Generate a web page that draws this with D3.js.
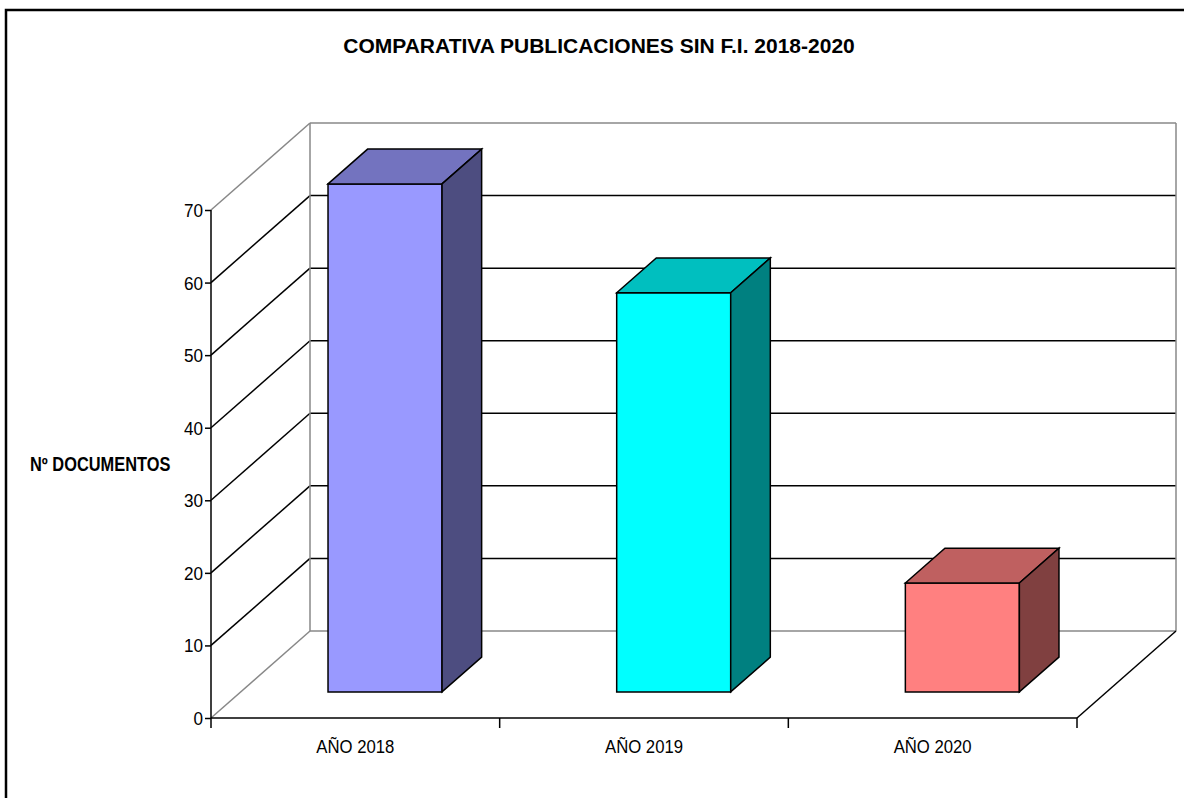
<!DOCTYPE html>
<html>
<head>
<meta charset="utf-8">
<script src="https://cdn.jsdelivr.net/npm/d3@7"></script>
<style>
  body { margin: 0; background: #fff; }
  svg { display: block; font-family: "Liberation Sans", Arial, sans-serif; }
</style>
</head>
<body>
<svg width="1184" height="798"></svg>
<script>
// chart data
var categories = ['AÑO 2018', 'AÑO 2019', 'AÑO 2020']
var values = [70, 55, 15]
var yTicks = [0, 10, 20, 30, 40, 50, 60, 70]
var frontColors = ['#9999ff', '#00ffff', '#ff8080']
var title = 'COMPARATIVA PUBLICACIONES SIN F.I. 2018-2020'
var yLabel = 'Nº DOCUMENTOS'

var svg = d3.select('svg')

// 3d depth of the plot box (full depth)
var depthX = 99
var depthY = -87
var barZ0 = 0.3, barZ1 = 0.7

var x = d3.scaleBand().domain(categories).range([211, 1077])
var y = d3.scaleLinear().domain([0, 70]).range([718, 210])

function pt(px, v, z) {
    return [px + z * depthX, y(v) + z * depthY]
}

// outer frame
svg.append('rect')
    .attr('x', 6).attr('y', 10)
    .attr('width', 1220).attr('height', 820)
    .style('fill', 'none').style('stroke', '#000').style('stroke-width', 2.5)

// title
svg.append('g')
    .attr('transform', 'translate(599,53) scale(1,1)')
    .append('text')
    .attr('text-anchor', 'middle')
    .style('font-size', '21px').style('font-weight', 'bold')
    .text(title)

var walls = svg.append('g')
var x0 = x.range()[0], x1 = x.range()[1]

// back wall gridlines + side wall diagonals
yTicks.forEach(function(v) {
    var edge = (v === 0 || v === 70)
    var col = edge ? '#888' : '#000'
    var a = pt(x0, v, 1), b = pt(x1, v, 1), f = pt(x0, v, 0)
    walls.append('line')
        .attr('x1', a[0]).attr('y1', a[1]).attr('x2', b[0]).attr('y2', b[1])
        .style('stroke', col).style('stroke-width', 1.5)
    walls.append('line')
        .attr('x1', f[0]).attr('y1', f[1]).attr('x2', a[0]).attr('y2', a[1])
        .style('stroke', col).style('stroke-width', 1.5)
})
// back wall verticals
;[x0, x1].forEach(function(px) {
    var t = pt(px, 70, 1), b = pt(px, 0, 1)
    walls.append('line')
        .attr('x1', t[0]).attr('y1', t[1]).attr('x2', b[0]).attr('y2', b[1])
        .style('stroke', '#888').style('stroke-width', 1.5)
})
// floor right edge
var fr0 = pt(x1, 0, 0), fr1 = pt(x1, 0, 1)
walls.append('line')
    .attr('x1', fr0[0]).attr('y1', fr0[1]).attr('x2', fr1[0]).attr('y2', fr1[1])
    .style('stroke', '#000').style('stroke-width', 1.5)

// bars
var bars = svg.append('g')
categories.forEach(function(c, i) {
    var bw = x.bandwidth() * 0.395
    var left = x(c) + x.bandwidth() / 2 - bw / 2
    var right = left + bw
    var v = values[i]
    var base = d3.color(frontColors[i])
    var topCol = d3.rgb(base.r * 0.75, base.g * 0.75, base.b * 0.75)
    var sideCol = d3.rgb(base.r * 0.5, base.g * 0.5, base.b * 0.5)

    var fTL = pt(left, v, barZ0), fTR = pt(right, v, barZ0)
    var fBR = pt(right, 0, barZ0), fBL = pt(left, 0, barZ0)
    var bTL = pt(left, v, barZ1), bTR = pt(right, v, barZ1), bBR = pt(right, 0, barZ1)

    var faces = [
        { p: [fTL, fTR, fBR, fBL], c: base },
        { p: [fTL, bTL, bTR, fTR], c: topCol },
        { p: [fTR, bTR, bBR, fBR], c: sideCol }
    ]
    faces.forEach(function(f) {
        bars.append('path')
            .attr('d', 'M' + f.p.map(function(q) { return q.join(',') }).join('L') + 'Z')
            .style('fill', f.c)
            .style('stroke', '#000').style('stroke-width', 1.5)
            .style('stroke-linejoin', 'miter')
    })
})

// axes
var yAxis = svg.append('g').attr('transform', 'translate(211,0)')
    .call(d3.axisLeft(y).tickValues(yTicks).tickSize(6).tickFormat(''))
yAxis.selectAll('line, path').style('stroke', '#000').style('stroke-width', 1.5)
yAxis.select('.domain').attr('d', 'M0,' + y(70) + 'V' + y(0))

var yLabels = svg.append('g')
yTicks.forEach(function(v) {
    yLabels.append('g')
        .attr('transform', 'translate(203,' + (y(v) + 7) + ') scale(0.9,1)')
        .append('text')
        .attr('text-anchor', 'end')
        .style('font-size', '19px')
        .text(v)
})

var xAxis = svg.append('g').attr('transform', 'translate(0,718)')
var xTickPos = [x0].concat(categories.map(function(c) { return x(c) + x.bandwidth() }))
xAxis.append('line')
    .attr('x1', x0).attr('x2', x1).attr('y1', 0).attr('y2', 0)
    .style('stroke', '#000').style('stroke-width', 1.5)
xAxis.selectAll('.tk').data(xTickPos).enter().append('line')
    .attr('x1', function(d) { return d }).attr('x2', function(d) { return d })
    .attr('y1', 0).attr('y2', 10)
    .style('stroke', '#000').style('stroke-width', 1.5)

categories.forEach(function(c) {
    svg.append('g')
        .attr('transform', 'translate(' + (x(c) + x.bandwidth() / 2) + ',753) scale(0.88,1)')
        .append('text')
        .attr('text-anchor', 'middle')
        .style('font-size', '19px')
        .text(c)
})

// y axis title
svg.append('g')
    .attr('transform', 'translate(30,471) scale(0.82,1)')
    .append('text')
    .style('font-size', '20px').style('font-weight', 'bold')
    .text(yLabel)
</script>
</body>
</html>
